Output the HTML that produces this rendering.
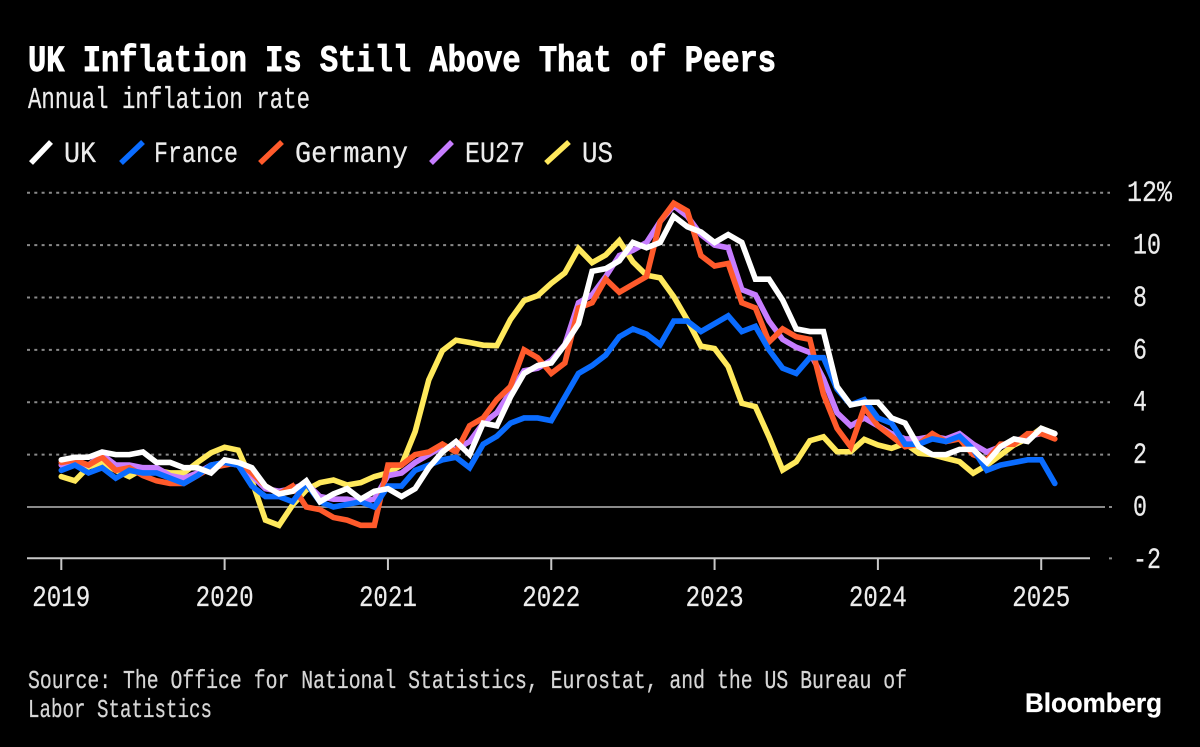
<!DOCTYPE html>
<html lang="en">
<head>
<meta charset="utf-8">
<title>UK Inflation Is Still Above That of Peers</title>
<style>
html,body{margin:0;padding:0;background:#000;width:1200px;height:747px;overflow:hidden}
svg{display:block}
text{font-family:"Liberation Mono","DejaVu Sans Mono",monospace;fill:#ececec;stroke:#ececec;stroke-width:.25px}
</style>
</head>
<body>
<svg id="chart" xmlns="http://www.w3.org/2000/svg" width="1200" height="747" viewBox="0 0 1200 747">
  <rect x="0" y="0" width="1200" height="747" fill="#000"/>
  <text x="28" y="71" font-size="37" font-weight="700" textLength="748" lengthAdjust="spacingAndGlyphs" style="fill:#fff;stroke:#fff;stroke-width:.9px">UK Inflation Is Still Above That of Peers</text>
  <text x="28" y="108" font-size="31" textLength="282" lengthAdjust="spacingAndGlyphs">Annual inflation rate</text>
  <g>
    <g>
      <line x1="31" y1="163" x2="51" y2="142" stroke="#ffffff" stroke-width="5.5"/>
      <text x="64" y="162" font-size="30" textLength="32" lengthAdjust="spacingAndGlyphs">UK</text>
    </g>
    <g>
      <line x1="121" y1="163" x2="143" y2="142" stroke="#0a6cff" stroke-width="5.5"/>
      <text x="154" y="162" font-size="30" textLength="84" lengthAdjust="spacingAndGlyphs">France</text>
    </g>
    <g>
      <line x1="260" y1="163" x2="282" y2="142" stroke="#ff5a2b" stroke-width="5.5"/>
      <text x="295" y="162" font-size="30" textLength="113" lengthAdjust="spacingAndGlyphs">Germany</text>
    </g>
    <g>
      <line x1="431" y1="163" x2="452" y2="142" stroke="#c77dff" stroke-width="5.5"/>
      <text x="465" y="162" font-size="30" textLength="60" lengthAdjust="spacingAndGlyphs">EU27</text>
    </g>
    <g>
      <line x1="546" y1="163" x2="569" y2="142" stroke="#ffe95c" stroke-width="5.5"/>
      <text x="582" y="162" font-size="30" textLength="31" lengthAdjust="spacingAndGlyphs">US</text>
    </g>
  </g>
  <g id="grid"></g>
  <g id="xaxis"></g>
  <g id="yaxis"></g>
  <g id="series"></g>
  <text x="28" y="688" font-size="26" textLength="879" lengthAdjust="spacingAndGlyphs" style="fill:#d6d6d6;stroke:#d6d6d6">Source: The Office for National Statistics, Eurostat, and the US Bureau of</text>
  <text x="28" y="717" font-size="26" textLength="184" lengthAdjust="spacingAndGlyphs" style="fill:#d6d6d6;stroke:#d6d6d6">Labor Statistics</text>
  <text x="1025" y="712" font-size="27" font-weight="700" textLength="137" lengthAdjust="spacingAndGlyphs" style="font-family:'Liberation Sans',sans-serif;fill:#fff;stroke:#fff">Bloomberg</text>
</svg>
<script>
var yearLabels = ['2019','2020','2021','2022','2023','2024','2025'];
var yTicks = [12,10,8,6,4,2,0,-2];
var yTickLabels = ['12%','10','8','6','4','2','0','-2'];

var ukValues = [1.8,1.9,1.9,2.1,2.0,2.0,2.1,1.7,1.7,1.5,1.5,1.3,
  1.8,1.7,1.5,0.8,0.5,0.6,1.0,0.2,0.5,0.7,0.3,0.6,
  0.7,0.4,0.7,1.5,2.1,2.5,2.0,3.2,3.1,4.2,5.1,5.4,
  5.5,6.2,7.0,9.0,9.1,9.4,10.1,9.9,10.1,11.1,10.7,10.5,
  10.1,10.4,10.1,8.7,8.7,7.9,6.8,6.7,6.7,4.6,3.9,4.0,
  4.0,3.4,3.2,2.3,2.0,2.0,2.2,2.2,1.7,2.3,2.6,2.5,
  3.0,2.8];
var franceValues = [1.4,1.6,1.3,1.5,1.1,1.4,1.3,1.3,1.1,0.9,1.2,1.6,
  1.7,1.6,0.8,0.4,0.4,0.2,0.9,0.2,0.0,0.1,0.2,0.0,
  0.8,0.8,1.4,1.6,1.8,1.9,1.5,2.4,2.7,3.2,3.4,3.4,
  3.3,4.2,5.1,5.4,5.8,6.5,6.8,6.6,6.2,7.1,7.1,6.7,
  7.0,7.3,6.7,6.9,6.0,5.3,5.1,5.7,5.7,4.5,3.9,4.1,
  3.4,3.2,2.4,2.4,2.6,2.5,2.7,2.2,1.4,1.6,1.7,1.8,
  1.8,0.9];
var germanyValues = [1.7,1.8,1.6,1.9,1.4,1.5,1.2,1.0,0.9,0.9,1.2,1.5,
  1.6,1.7,1.3,0.8,0.5,0.8,0.0,-0.1,-0.4,-0.5,-0.7,-0.7,
  1.6,1.6,2.0,2.1,2.4,2.1,3.1,3.4,4.1,4.6,6.0,5.7,
  5.1,5.5,7.6,7.8,8.7,8.2,8.5,8.8,10.9,11.6,11.3,9.6,
  9.2,9.3,7.8,7.6,6.3,6.8,6.5,6.4,4.3,3.0,2.3,3.8,
  3.1,2.7,2.3,2.4,2.8,2.5,2.6,2.0,1.8,2.4,2.4,2.8,
  2.8,2.6];
var eu27Values = [1.6,1.7,1.6,2.0,1.6,1.6,1.5,1.5,1.2,1.1,1.3,1.6,
  1.7,1.6,1.2,0.7,0.6,0.7,0.9,0.4,0.3,0.3,0.2,0.3,
  1.2,1.3,1.7,2.0,2.3,2.2,2.5,3.2,3.6,4.4,5.2,5.3,
  5.6,6.2,7.8,8.1,8.8,9.6,9.8,10.1,10.9,11.5,11.1,10.4,
  10.0,9.9,8.3,8.1,7.1,6.4,6.1,5.9,4.9,3.6,3.1,3.4,
  3.1,2.8,2.6,2.6,2.7,2.6,2.8,2.4,2.1,2.3,2.5,2.7,
  2.8,2.8];
var usValues = [1.16,1.0,1.54,1.67,1.4,1.16,1.46,1.4,1.3,1.3,1.7,2.07,
  2.28,2.17,1.0,-0.5,-0.7,0.08,0.65,0.93,1.03,0.84,0.93,1.16,
  1.3,1.6,2.88,4.85,5.97,6.37,6.28,6.18,6.16,7.16,7.88,8.07,
  8.54,8.94,9.87,9.33,9.62,10.17,9.36,8.85,8.75,8.03,7.14,6.14,
  6.05,5.36,3.96,3.83,2.68,1.41,1.73,2.53,2.68,2.11,2.11,2.58,
  2.37,2.24,2.43,2.05,2.0,1.86,1.73,1.29,1.6,1.98,2.37,2.62,
  3.0,2.8];

function x(monthIndex){ return 61.3 + monthIndex * 13.61; }
function y(value){ return 507 - value * 26.19; }
function yearIndex(label){ return (Number(label) - 2019) * 12; }

var NS = 'http://www.w3.org/2000/svg';
function mk(tag, parent, attrs, txt){
  var el = document.createElementNS(NS, tag);
  for (var k in attrs) el.setAttribute(k, attrs[k]);
  if (txt !== undefined) el.textContent = txt;
  parent.appendChild(el);
  return el;
}

var gridG = document.getElementById('grid');
var yG = document.getElementById('yaxis');
yTicks.forEach(function(v, i){
  var yy = y(v);
  if (v > 0) {
    var gl = mk('line', gridG, {x1:27, y1:yy, x2:1110, y2:yy, stroke:'#8a8a8a', 'stroke-width':2, 'stroke-dasharray':'3 4.3'});
    
    
  } else if (v === 0) {
    var zl = mk('line', gridG, {x1:27, y1:yy, x2:1105, y2:yy, stroke:'#8a8a8a', 'stroke-width':2});
    
    
    var zd = mk('line', gridG, {x1:1109, y1:yy, x2:1112, y2:yy, stroke:'#8a8a8a', 'stroke-width':2});
    
    
  } else {
    var nd = mk('line', gridG, {x1:1109, y1:yy - 1, x2:1112, y2:yy - 1, stroke:'#8a8a8a', 'stroke-width':2});
    
    
  }
  var lab = yTickLabels[i];
  var t = mk('text', yG, {x: lab.length === 3 ? 1127 : 1133, y: yy + 8.5, 'font-size':30, textLength: lab.length === 3 ? 45 : (lab.length === 2 ? 28 : 14), lengthAdjust:'spacingAndGlyphs'}, lab);
  
  
});

var xG = document.getElementById('xaxis');
var baseLine = mk('line', xG, {x1:27, y1:558.3, x2:1090, y2:558.3, stroke:'#c8c8c8', 'stroke-width':2});


yearLabels.forEach(function(lab){
  var xx = x(yearIndex(lab));
  var tk = mk('line', xG, {x1:xx, y1:558, x2:xx, y2:570, stroke:'#c8c8c8', 'stroke-width':2});
  
  
  var tl = mk('text', xG, {x:xx - 29, y:606, 'font-size':30, textLength:58, lengthAdjust:'spacingAndGlyphs'}, lab);
  
  
});

function linePath(values){
  return values.map(function(v, i){
    return (i ? 'L' : 'M') + x(i).toFixed(2) + ' ' + y(v).toFixed(2);
  }).join('');
}
var sG = document.getElementById('series');
function drawSeries(values, colour, name){
  var p = mk('path', sG, {d:linePath(values), fill:'none', stroke:colour, 'stroke-width':5.6, 'stroke-linejoin':'miter', 'stroke-miterlimit':3, 'stroke-linecap':'round'});
  
  
}
drawSeries(usValues, '#ffe95c', 'line-us');
drawSeries(eu27Values, '#c77dff', 'line-eu27');
drawSeries(germanyValues, '#ff5a2b', 'line-germany');
drawSeries(franceValues, '#0a6cff', 'line-france');
drawSeries(ukValues, '#ffffff', 'line-uk');
</script>
</body>
</html>
